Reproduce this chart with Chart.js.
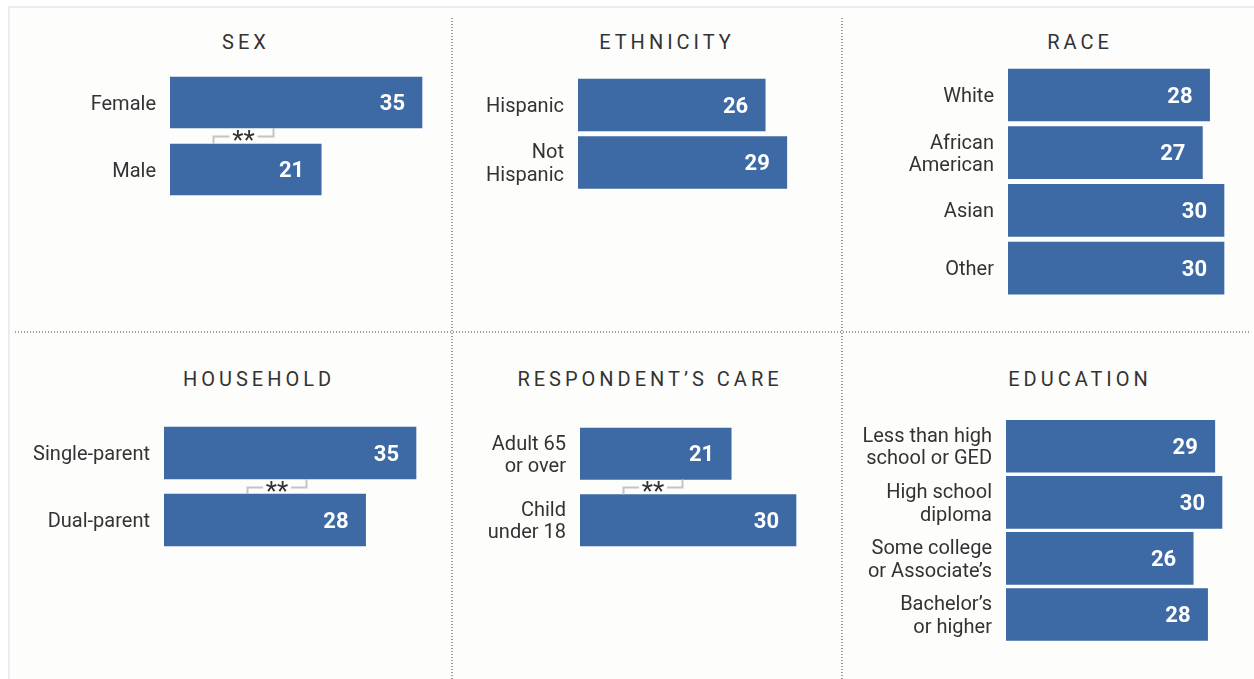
<!DOCTYPE html>
<html>
<head>
<meta charset="utf-8">
<script src="https://cdn.jsdelivr.net/npm/chart.js@4"></script>
<style>
  html, body { margin:0; padding:0; background:#ffffff; }
  #wrap { position:relative; width:1254px; height:679px; overflow:hidden; background:#ffffff; }
  #frame { position:absolute; left:8px; top:6px; width:1246px; height:673px; background:#fdfdfc;
           border-left:2px solid #ececec; border-top:2px solid #ececec; box-sizing:border-box; }
  canvas { position:absolute; left:0; top:0; }
  .vdot { position:absolute; width:2px; background-image:repeating-linear-gradient(to bottom, #9c9c9c 0 1.5px, transparent 1.5px 3px); }
  .hdot { position:absolute; height:2px; background-image:repeating-linear-gradient(to right, #9c9c9c 0 1.5px, transparent 1.5px 3px); }
  .ttl { position:absolute; font-family:Roboto, sans-serif; font-size:20px; line-height:20px; color:#333;
         letter-spacing:4px; padding-left:4px; transform:translateX(-50%); white-space:nowrap; }
</style>
</head>
<body>
<div id="wrap">
  <div id="frame"></div>
  <div class="vdot" style="left:451px; top:18px; height:661px;"></div>
  <div class="vdot" style="left:841px; top:18px; height:661px;"></div>
  <div class="hdot" style="left:15px; top:331px; width:1236px;"></div>
  <div class="ttl" style="left:244px; top:32px;">SEX</div>
  <div class="ttl" style="left:665px; top:32px;">ETHNICITY</div>
  <div class="ttl" style="left:1078px; top:32px;">RACE</div>
  <div class="ttl" style="left:257px; top:369px;">HOUSEHOLD</div>
  <div class="ttl" style="left:648px; top:369px;">RESPONDENT’S CARE</div>
  <div class="ttl" style="left:1078px; top:369px;">EDUCATION</div>
</div>
<script>
// ---- Data ----
const sexLabels = ['Female', 'Male'];
const sexValues = [35, 21];

const ethnicityLabels = ['Hispanic', ['Not', 'Hispanic']];
const ethnicityValues = [26, 29];

const raceLabels = ['White', ['African', 'American'], 'Asian', 'Other'];
const raceValues = [28, 27, 30, 30];

const householdLabels = ['Single-parent', 'Dual-parent'];
const householdValues = [35, 28];

const careLabels = [['Adult 65', 'or over'], ['Child', 'under 18']];
const careValues = [21, 30];

const educationLabels = [['Less than high', 'school or GED'], ['High school', 'diploma'], ['Some college', 'or Associate’s'], ['Bachelor’s', 'or higher']];
const educationValues = [29, 30, 26, 28];

// significance markers (value positions of bracket ends, in data units)
const sexBracket = { from: 14.3, to: 6.0, text: '**' };
const householdBracket = { from: 19.7, to: 11.5, text: '**' };
const careBracket = { from: 14.2, to: 6.0, text: '**' };

// ---- Layout ----
const W = 1254, H = 679, PX_PER_UNIT = 7.2;
const BAR_COLOR = '#3d69a5';

const panels = [
  { labels: sexLabels, values: sexValues, barStart: 170, firstTop: 77, pitch: 67, thick: 51, max: 40, bracket: sexBracket },
  { labels: ethnicityLabels, values: ethnicityValues, barStart: 578, firstTop: 79, pitch: 57.5, thick: 52, max: 32 },
  { labels: raceLabels, values: raceValues, barStart: 1008, firstTop: 69, pitch: 57.7, thick: 52, max: 32 },
  { labels: householdLabels, values: householdValues, barStart: 164, firstTop: 427, pitch: 67, thick: 52, max: 40, bracket: householdBracket },
  { labels: careLabels, values: careValues, barStart: 580, firstTop: 428, pitch: 66.5, thick: 51.5, max: 32, bracket: careBracket },
  { labels: educationLabels, values: educationValues, barStart: 1006, firstTop: 421, pitch: 57.7, thick: 52, max: 32 }
];

const valueLabelPlugin = {
  id: 'valueLabels',
  afterDatasetsDraw(chart) {
    const ctx = chart.ctx;
    const meta = chart.getDatasetMeta(0);
    const vals = chart.data.datasets[0].data;
    ctx.save();
    ctx.fillStyle = '#ffffff';
    ctx.font = 'bold 22px Roboto, sans-serif';
    ctx.textAlign = 'right';
    ctx.textBaseline = 'middle';
    meta.data.forEach((el, i) => {
      ctx.fillText(String(vals[i]), el.x - 17, el.y + 2);
    });
    ctx.restore();
  }
};

const bracketPlugin = {
  id: 'bracket',
  afterDatasetsDraw(chart, args, opts) {
    const br = opts && opts.spec;
    if (!br) return;
    const meta = chart.getDatasetMeta(0);
    const e0 = meta.data[0], e1 = meta.data[1];
    const xs = chart.scales.x;
    const yTop = e0.y + e0.height / 2;
    const yBot = e1.y - e1.height / 2;
    const yMid = Math.round((yTop + yBot) / 2) + 0.5;
    const xA = Math.round(xs.getPixelForValue(br.from)) + 0.5;
    const xB = Math.round(xs.getPixelForValue(br.to)) + 0.5;
    const xc = (xA + xB) / 2;
    const gap = 14;
    const ctx = chart.ctx;
    ctx.save();
    ctx.strokeStyle = '#c4c4c4';
    ctx.lineWidth = 2;
    ctx.beginPath();
    ctx.moveTo(xA, yTop);
    ctx.lineTo(xA, yMid);
    ctx.lineTo(xc + gap, yMid);
    ctx.moveTo(xc - gap, yMid);
    ctx.lineTo(xB, yMid);
    ctx.lineTo(xB, yBot);
    ctx.stroke();
    ctx.fillStyle = '#333333';
    ctx.font = '26px Roboto, sans-serif';
    ctx.textAlign = 'center';
    ctx.textBaseline = 'middle';
    ctx.fillText(br.text, xc, yMid + 6);
    ctx.restore();
  }
};

const wrap = document.getElementById('wrap');
panels.forEach((p) => {
  const cv = document.createElement('canvas');
  cv.width = W; cv.height = H;
  cv.style.width = W + 'px'; cv.style.height = H + 'px';
  wrap.appendChild(cv);
  const n = p.values.length;
  const top = p.firstTop - (p.pitch - p.thick) / 2;
  const height = p.pitch * n;
  const areaW = p.max * PX_PER_UNIT;
  new Chart(cv, {
    type: 'bar',
    data: {
      labels: p.labels,
      datasets: [{ data: p.values, backgroundColor: BAR_COLOR, borderWidth: 0, barThickness: p.thick }]
    },
    options: {
      indexAxis: 'y',
      responsive: false,
      animation: false,
      devicePixelRatio: 1,
      layout: { padding: { left: 0, top: top, right: W - p.barStart - areaW, bottom: H - top - height } },
      plugins: {
        legend: { display: false },
        title: { display: false },
        tooltip: { enabled: false },
        bracket: { spec: p.bracket || null }
      },
      scales: {
        x: { display: false, min: 0, max: p.max },
        y: {
          grid: { display: false, drawTicks: false },
          border: { display: false },
          afterFit(scale) { scale.width = p.barStart; },
          ticks: {
            padding: 14,
            labelOffset: 2,
            color: '#333333',
            font: { family: 'Roboto, sans-serif', size: 20, lineHeight: 1.12 }
          }
        }
      }
    },
    plugins: [valueLabelPlugin, bracketPlugin]
  });
});
</script>
</body>
</html>
